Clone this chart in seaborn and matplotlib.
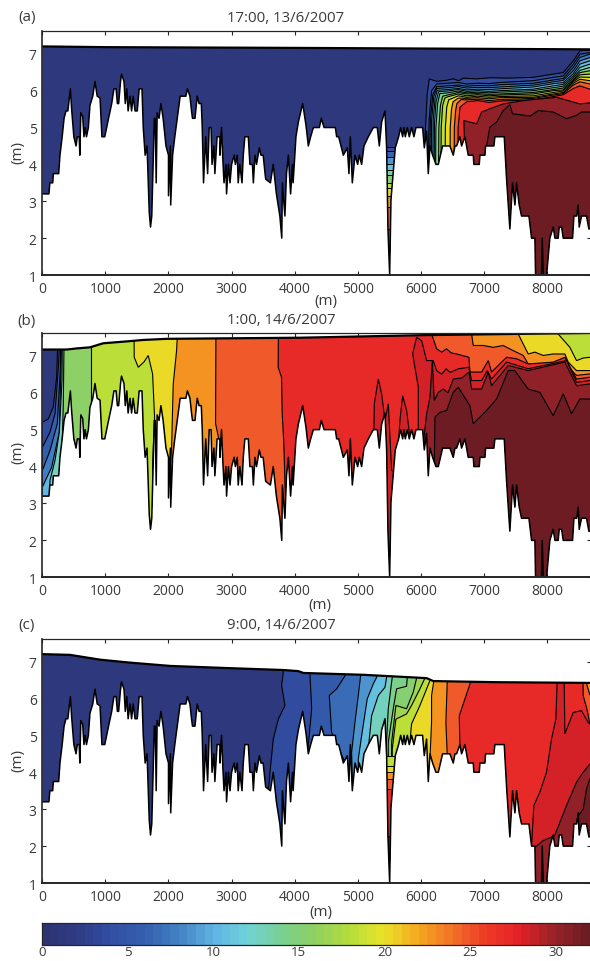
import numpy as np
import matplotlib
matplotlib.use("Agg")
import matplotlib.pyplot as plt
from matplotlib.colors import LinearSegmentedColormap, Normalize
from matplotlib.patches import Polygon
import seaborn as sns

# river bed, shared by the three panels (m along channel, m elevation)
bed_x = [0,105,120,165,175,260,280,315,345,375,405,445,465,500,535,555,585,595,610,640,660,680,700,730,755,800,835,870,915,945,990,
         1020,1050,1100,1135,1170,1190,1210,1240,1255,1295,1315,1340,1360,1390,1415,1440,1470,1505,1535,1580,1600,1630,1660,1695,1715,1735,
         1760,1775,1790,1805,1820,1850,1880,1915,1960,2000,2000,2030,2035,2065,2100,2155,2185,2275,2300,2340,2365,2380,2420,2455,2485,2520,
         2535,2555,2590,2620,2645,2675,2690,2720,2735,2770,2815,2815,2840,2865,2880,2910,2920,2950,2975,3000,3040,3060,3090,3105,3130,3165,
         3185,3210,3265,3290,3330,3345,3370,3395,3440,3465,3500,3540,3615,3660,3710,3765,3795,3805,3845,3870,3900,3935,3965,3975,4020,4058,
         4127,4180,4216,4253,4296,4391,4422,4465,4644,4665,4697,4734,4771,4834,4860,4882,4913,4956,4998,5024,5061,5098,5167,5246,5309,5341,
         5378,5431,5457,5478,5505,5526,5563,5594,5647,5679,5711,5732,5753,5785,5816,5853,5890,5922,6027,6054,6090,6117,6144,6186,6239,6276,
         6310,6344,6400,6460,6513,6540,6566,6618,6645,6698,6750,6830,6840,6925,6936,7015,7025,7157,7173,7321,7358,7410,7453,7490,7516,7558,
         7595,7712,7754,7807,7817,7912,7923,7939,7992,8044,8097,8125,8176,8192,8230,8256,8404,8425,8470,8493,8509,8546,8625,8662,8700]
bed_z = [3.2,3.2,3.5,3.5,3.75,3.75,4.25,4.75,5.25,5.45,5.45,6.05,5.5,4.75,4.5,4.75,4.75,4.25,5.4,5.3,4.75,5,4.75,5,5.6,5.85,6.25,5.85,5.8,4.75,4.75,
         5,5.25,5.65,6.05,6.05,5.65,5.65,6.25,6.45,6.25,5.65,6.05,5.45,5.85,5.45,5.85,5.45,5.45,6.05,6.05,5,4.25,4.5,2.7,2.3,2.6,
         4.25,5.25,5.25,3.5,5.4,5.25,5.65,5.25,4.5,4.25,3.15,4.5,2.9,4.25,4.75,5.45,5.85,5.85,6.05,5.85,5.45,5.25,5.25,5.85,5.65,5.65,
         5,3.5,4.75,3.75,5,5,4,4.5,3.75,4.75,4.75,4.25,5,4,3.5,4,3.2,4,3.5,4,4.25,4,4.25,3.5,4,3.5,
         4.25,4.75,4.75,4,4,3.5,4.25,4,4.45,4.25,4.25,3.6,3.5,4,3.2,2.6,2,3.5,2.6,3.75,4.25,3.2,4,3.5,4.75,5.15,
         5.65,5.05,4.5,4.75,5,5,5.25,5,5,4.75,4.75,4.5,4.25,4.45,3.75,4.75,3.5,4.25,4,4.25,4,4.5,4.75,5,5,4.5,
         5.15,5.45,4.45,2.25,1,3.05,3.8,4.45,4.75,5,4.75,5,4.75,5,4.75,5,4.75,5,5,4.45,4.9,3.75,4.5,4.25,4,4,
         4.25,4.5,4.5,4.5,4.25,4.5,4.5,4.75,4.5,4.75,4.25,4.25,4,4,4.25,4.25,4.5,4.5,4.75,4.75,3.6,2.25,3.5,2.9,3.5,2.9,
         2.6,2.6,2,2,1,1,2,1,1,2,2.3,2,2,2.3,2.3,2,2,2.6,2.6,2.9,2.3,2.6,2.6,2.25,2.25]

# water surface
surf_a_x = [0, 1000, 4000, 8700]
surf_a_z = [7.2, 7.18, 7.16, 7.12]
surf_b_x = [0, 385, 544, 755, 966, 1336, 1600, 1970, 4081, 6050, 8700]
surf_b_z = [7.17, 7.17, 7.2, 7.23, 7.34, 7.39, 7.43, 7.46, 7.49, 7.56, 7.62]
surf_c_x = [0, 440, 915, 1390, 2030, 2975, 3820, 4057, 4137, 5087, 6090, 6196, 7199, 8700]
surf_c_z = [7.2, 7.18, 7.05, 6.97, 6.88, 6.82, 6.77, 6.74, 6.69, 6.64, 6.55, 6.47, 6.44, 6.42]

# isohalines: value of the band below/right of the line, then x and z of the line
a_tail_x = [7781,8098,8256,8415,8520,8679]
a_lines = [
    (3.5, [6064,6100,6133,6249,6400,6513,6600,6672,6883,7100,7358,7781,8098,8256,8415,8520,8679],
          [4.69,5.9,6.32,6.25,6.28,6.32,6.27,6.34,6.32,6.35,6.34,6.36,6.45,6.49,6.81,7.08,7.10]),
    (5.5, [6107,6130,6170,6250,6420,6593,6725,6900,7080,7253] + a_tail_x, [3,5.2,6.0,6.18,6.20,6.22,6.18,6.20,6.19,6.22,6.27,6.36,6.40,6.72,6.99,7.03]),
    (7.5, [6133,6150,6190,6250,6420,6593,6725,6900,7080,7253] + a_tail_x, [3,5.2,5.9,6.11,6.13,6.15,6.12,6.14,6.13,6.16,6.20,6.29,6.33,6.63,6.90,6.99]),
    (9.0, [6159,6170,6205,6250,6420,6593,6725,6900,7080,7253] + a_tail_x, [3,5.2,5.85,6.06,6.08,6.11,6.07,6.09,6.08,6.10,6.15,6.24,6.28,6.54,6.81,6.90]),
    (10.5, [6186,6195,6225,6260,6420,6593,6725,6900,7080,7253] + a_tail_x, [3,5.2,5.8,6.01,6.03,6.06,6.02,6.04,6.03,6.05,6.10,6.19,6.22,6.46,6.72,6.81]),
    (12.0, [6207,6215,6240,6280,6420,6593,6725,6900,7080,7253] + a_tail_x, [3,5.1,5.7,5.97,5.99,6.03,5.98,6.0,5.98,6.0,6.04,6.13,6.17,6.40,6.63,6.72]),
    (14.0, [6228,6238,6265,6300,6420,6593,6725,6900,7080,7253] + a_tail_x, [3,5.0,5.65,5.92,5.94,5.99,5.94,5.96,5.94,5.96,6.0,6.08,6.12,6.35,6.55,6.63]),
    (16.0, [6276,6285,6310,6345,6420,6593,6725,6900,7080,7253] + a_tail_x, [3,5.0,5.6,5.85,5.88,5.95,5.91,5.92,5.90,5.91,5.95,6.03,6.07,6.30,6.49,6.54]),
    (18.0, [6313,6322,6345,6380,6420,6593,6725,6900,7080,7253] + a_tail_x, [3,5.0,5.6,5.8,5.83,5.91,5.86,5.89,5.86,5.88,5.91,6.0,6.02,6.27,6.43,6.45]),
    (20.0, [6381,6388,6410,6440,6593,6725,6900,7080,7253] + a_tail_x, [3,5.0,5.55,5.75,5.86,5.82,5.85,5.82,5.84,5.86,5.95,5.99,6.24,6.37,6.36]),
    (22.5, [6460,6465,6485,6510,6593,6725,6900,7080,7253] + a_tail_x, [3,5.0,5.5,5.7,5.80,5.79,5.81,5.78,5.81,5.82,5.91,5.95,6.2,6.31,6.27]),
    (24.5, [6524,6530,6550,6570,6640,6725,6900,7080,7253] + a_tail_x, [3,5.0,5.45,5.65,5.76,5.75,5.77,5.73,5.76,5.79,5.88,5.92,6.15,6.24,6.18]),
    (27.0, [6582,6590,6620,6725,6900,7080,7253] + a_tail_x, [3,5.0,5.55,5.70,5.73,5.68,5.72,5.75,5.84,5.89,6.06,6.13,6.04]),
    (30.0, [6698,6682,6883,6962,7094,7305,7622,8150,8520,8678], [4.15,5.19,5.10,5.42,5.51,5.64,5.73,5.82,5.64,5.67]),
    (31.5, [7041,7041,7094,7200,7305,7411,7453,7569,7728,7860,8097,8308,8467,8546,8678],
           [3.97,4.51,5.01,5.15,5.46,5.62,5.37,5.35,5.31,5.46,5.42,5.24,5.33,5.42,5.42]),
]
b_lines = [
    (3.5, [0,95,174,227,243,243], [5.2,5.29,5.61,6.42,7.23,8]),
    (5.5, [0,121,201,255,270,270], [4.52,4.93,5.43,6.69,7.2,8]),
    (7.5, [0,121,238,285,290,290], [3.89,4.43,5.16,6.6,7.2,8]),
    (10.0, [0,148,270,300,305], [3.44,3.98,4.93,7.05,8]),
    (12.5, [121,201,269,312,320], [3.62,4.16,4.93,6.33,8]),
    (15.5, [269,312,333,343,343], [3.7,4.34,5.7,7.14,8]),
    (18.0, [766,766], [3,8]),
    (20.0, [1769,1748,1779,1748,1679,1610,1521,1457,1452,8176,8176,8361,8467,8572,8678],
           [1,4.07,5.34,6.51,7.01,6.83,6.69,6.96,8,8,7.59,7.23,6.87,6.94,6.96]),
    (22.5, [1985,2049,2075,2128,2154,7543,7543,7701,7807,7939,8097,8282,8335,8467,8678],
           [2.99,4.52,6.24,7.14,8,8,7.59,7.05,7.1,7.01,7.05,7.05,6.83,6.6,6.6]),
    (24.5, [2814,2746,2751,2761,6804,6804,6830,6988,7147,7305,7464,7622,7701,7860,8097,8282,8361,8467,8678],
           [4.61,5.16,7.41,8,8,7.59,7.28,7.28,7.23,7.28,7.14,7.01,6.78,6.74,6.78,6.96,6.65,6.47,6.51]),
    (27.0, [3870,3828,3802,3791,3738,3744,6170,6170,6249,6330,6406,6480,6566,6761,6777,6962,7068,7120,7358,7517,7701,8097,8282,8467,8678],
           [2.08,4.61,5.43,6.42,6.69,8,8,7.59,7.19,7.10,7.19,7.08,7.05,6.96,6.56,6.56,6.87,6.56,6.96,6.92,6.78,6.83,6.96,6.37,6.42]),
    (28.0, [5246,5262,5325,5378,5431,5484,5536,5616,5668,5711,5774,5816,5853,5932,5959,5959,5869,5932,6012,6091,6170,6196,6249,6330,6400,6460,6600,6761,6804,6962,7052,7120,7358,7701,8308,8467,8678],
           [3.89,5.7,6.37,5.97,5.25,5.7,3.89,3.89,5.25,5.92,5.52,4.93,3.89,3.89,4.93,6.15,7.05,7.5,7.41,6.87,6.87,6.87,6.6,6.5,6.65,6.55,6.65,6.69,6.33,6.33,6.6,6.37,6.83,6.65,6.87,6.28,6.33]),
    (30.0, [6038,6049,6091,6144,6181,6212,6276,6355,6430,6513,6650,6761,6804,6962,7068,7120,7384,7701,8282,8467,8678],
           [3.89,4.79,5.43,5.88,6.87,5.79,6.01,6.1,6.0,6.37,6.4,6.56,6.1,6.1,6.56,6.19,6.74,6.6,6.83,6.19,6.24]),
    (31.5, [6205,6223,6302,6408,6513,6592,6777,6830,7041,7200,7384,7490,7622,7701,7886,8097,8256,8388,8520,8678],
           [3,5.34,5.47,5.52,6.01,6.15,5.65,5.16,5.52,5.83,6.6,6.6,6.28,6.1,6.01,5.38,5.97,5.43,5.83,5.83]),
]
c_lines = [
    (3.5, [3556,3619,3661,3741,3846,3793,3820,3825], [3,4.18,4.9,5.44,5.81,6.35,6.71,8]),
    (5.0, [4200,4269,4242,4242], [4.45,5.72,6.66,8]),
    (6.5, [4797,4585,4548,4665,4812,4823], [4.27,5.08,6.08,6.26,6.65,8]),
    (8.5, [4918,4902,4955,5008,5045,5045], [3.5,4.54,5.35,6.08,6.62,8]),
    (10.5, [5008,5061,5150,5245,5298,5298], [4.36,4.99,5.99,6.39,6.57,8]),
    (12.5, [5166,5219,5325,5430,5457,5457], [4.63,5.53,6.08,6.3,6.57,8]),
    (14.0, [5446,5483,5536,5546,5546], [4.54,5.72,6.44,6.57,8]),
    (15.0, [5483,5562,5615,5773,5784,5784], [4.81,5.72,6.26,6.33,6.57,8]),
    (16.5, [5536,5604,5773,5879,5932,5932], [4.81,5.81,5.72,6.17,6.55,8]),
    (18.0, [5546,5604,5773,5852,5985,6064,6064], [4.63,5.44,5.58,5.81,6.26,6.55,8]),
    (20.0, [5826,5852,5985,6143,6196,6206], [4.81,5.31,5.81,6.48,6.53,8]),
    (22.5, [6127,6169,6169,6206,6206], [3.73,5.35,6.08,6.48,8]),
    (24.5, [6418,6396,6418,6418,8620,8625,8678], [4.45,5.35,6.48,8,8,6.4,6.1]),
    (27.0, [6618,6608,6787,6787,8565,8570,8572,8630,8678], [4.72,5.53,6.44,8,8,6.42,6.08,5.72,5.31]),
    (28.0, [7753,7790,7885,7991,8070,8139,8158,8158,8271,8271,8282,8414,8545,8651,8678],
           [1.99,3.1,3.46,4,4.9,5.44,6.39,8,8,6.4,5.04,5.62,5.67,5.35,5.31]),
    (30.0, [7753,7938,8097,8123,8202,8308,8466,8572,8678], [1.88,2.15,2.26,2.3,2.64,3.1,3.73,4,4.22]),
    (31.5, [8414,8493,8572,8625,8678], [2.28,2.82,3,3.55,3.82]),
]

# layers inside the narrow trench near 5500 m
trench_x = [5380, 5640]
trench_a_z = [4.47,4.35,4.2,4.0,3.85,3.7,3.5,3.35,3.15,2.85,2.25,1.7]
trench_a_v = [3.5,6,8.5,11,13,15,18,20,22.5,24.5,27,31]
trench_c_z = [4.45,4.18,4.0,3.82,3.55,2.28]
trench_c_v = [18,20,22.5,24.5,27,31]

titles = ["17:00, 13/6/2007", "1:00, 14/6/2007", "9:00, 14/6/2007"]
tags = ["(a)", "(b)", "(c)"]

cbar_pos = [0,2,4,6,8,10,12,14,16,18,20,22,24,25,26,28,30,32]
cbar_col = ["#2d3472","#2f3c85","#3150a5","#3560b0","#4485c5","#60b5e5","#70d2d5","#78d090","#90d060",
            "#b5dd3c","#e8e428","#f6a820","#f27525","#f0562a","#ef3c26","#e42127","#9c2329","#6d1c23"]
xticks = [0,1000,2000,3000,4000,5000,6000,7000,8000]
yticks = [1,2,3,4,5,6,7]
cticks = [0,5,10,15,20,25,30]

W, H = 590, 962
TXT = "#3a3a3a"

sns.set_style("ticks")
plt.rcParams["font.family"] = ["Open Sans", "DejaVu Sans"]

cmap = LinearSegmentedColormap.from_list("sal", [(p/32, c) for p, c in zip(cbar_pos, cbar_col)]).resampled(64)
norm = Normalize(0, 32)


def px_axes(fig, left, top, right, bottom):
    return fig.add_axes([left/W, 1-bottom/H, (right-left)/W, (bottom-top)/H])


def draw_panel(ax, surf_x, surf_z, lines, trench_z=None, trench_v=None):
    wx = list(surf_x) + bed_x[::-1]
    wz = list(surf_z) + bed_z[::-1]
    water = Polygon(np.column_stack([wx, wz]), closed=True, transform=ax.transData, fc=cmap(norm(1)), ec="none")
    ax.add_patch(water)

    for val, xs, zs in lines:
        # close the line along the right hand side and the bottom
        px = list(xs) + [8750, 8750, xs[0]]
        pz = list(zs) + [zs[-1], 0, 0]
        for p in ax.fill(px, pz, fc=cmap(norm(val)), ec="k", lw=0.8):
            p.set_clip_path(water)

    if trench_z is not None:
        for z, v in zip(trench_z, trench_v):
            p = ax.fill_between(trench_x, 0, z, fc=cmap(norm(v)), ec="k", lw=0.5)
            p.set_clip_path(water)

    sns.lineplot(x=bed_x, y=bed_z, ax=ax, sort=False, estimator=None, color="k", lw=1.1)
    sns.lineplot(x=surf_x, y=surf_z, ax=ax, sort=False, estimator=None, color="k", lw=1.6)

    ax.set_xlim(0, 8688)
    ax.set_ylim(1, 7.61)
    ax.set_xticks(xticks)
    ax.set_yticks(yticks)
    ax.set_xlabel("")
    ax.set_ylabel("")
    ax.tick_params(direction="in", top=True, right=True, length=3, width=0.8, labelsize=10, labelcolor=TXT, pad=4)
    for s in ax.spines.values():
        s.set_linewidth(0.9)
    ax.spines["left"].set_linewidth(1.2)
    ax.spines["bottom"].set_linewidth(1.4)


fig = plt.figure(figsize=(W/100, H/100), dpi=100, facecolor="white")
panel_top = [32.3, 334.3, 640]
panel_bot = [276, 578.3, 884]
data = [(surf_a_x, surf_a_z, a_lines, trench_a_z, trench_a_v),
        (surf_b_x, surf_b_z, b_lines, None, None),
        (surf_c_x, surf_c_z, c_lines, trench_c_z, trench_c_v)]
title_x = [286, 281, 281]
title_y = [18, 321, 626]
xlab_x = [326, 320, 321]
xlab_y = [302, 606, 913]
tag_y = [18, 321, 626]
ylab_y = [152, 453, 760]

for i in range(3):
    ax = px_axes(fig, 42.3, panel_top[i], 590.5, panel_bot[i])
    draw_panel(ax, *data[i])
    fig.text(title_x[i]/W, 1-title_y[i]/H, titles[i], ha="center", va="center", fontsize=10.8, color=TXT)
    fig.text(27/W, 1-tag_y[i]/H, tags[i], ha="center", va="center", fontsize=11, color=TXT)
    fig.text(xlab_x[i]/W, 1-xlab_y[i]/H, "(m)", ha="center", va="center", fontsize=11, color=TXT)
    fig.text(18/W, 1-ylab_y[i]/H, "(m)", ha="center", va="center", rotation=90, fontsize=11, color=TXT)

cax = px_axes(fig, 41.8, 924.3, 590, 945.7)
cells = np.arange(0.25, 32, 0.5).reshape(1, -1)
sns.heatmap(cells, ax=cax, cmap=cmap, norm=norm, cbar=False, xticklabels=False, yticklabels=False)
cax.set_xticks([v*2 for v in cticks])
cax.set_xticklabels([str(v) for v in cticks], rotation=0)
cax.tick_params(axis="x", direction="in", top=True, length=3, width=0.8, labelsize=9.5, labelcolor=TXT, pad=0.5)
for s in cax.spines.values():
    s.set_visible(True)
    s.set_linewidth(0.9)

fig.savefig("out.png", dpi=100)
